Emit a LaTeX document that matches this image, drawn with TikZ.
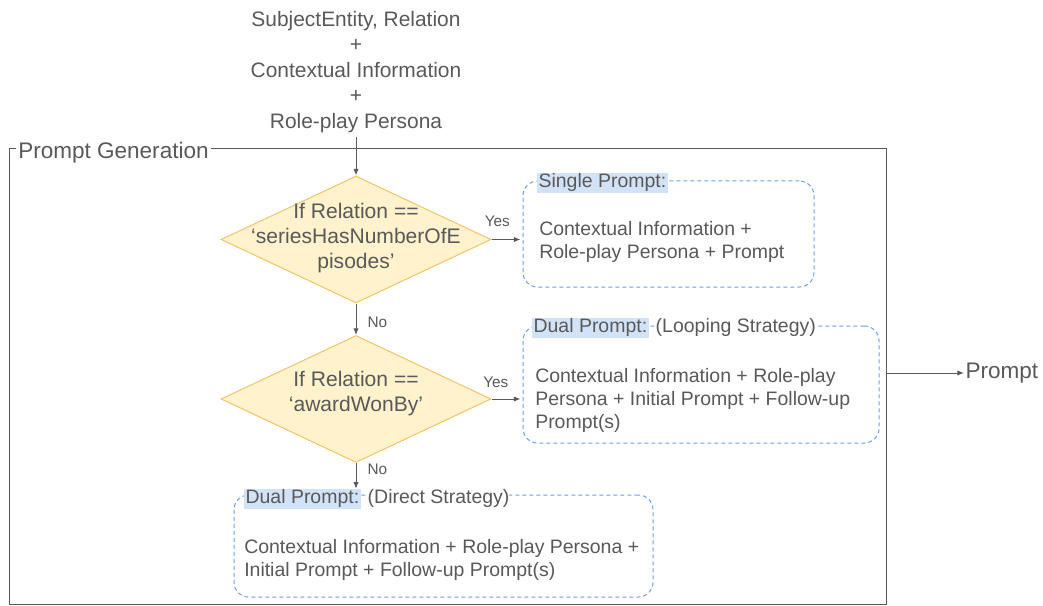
\documentclass[tikz,border=0pt]{standalone}
\usepackage{fontspec}
\setmainfont{Liberation Sans}
\usetikzlibrary{shapes.geometric,arrows.meta,positioning}

\definecolor{txtgray}{HTML}{595959}
\definecolor{decfill}{HTML}{FFF2CC}
\definecolor{decline}{HTML}{F4C46A}
\definecolor{boxblue}{HTML}{6D9EEB}
\definecolor{hlblue}{HTML}{D3E3F7}

\newcommand{\bodyfont}{\fontsize{14.6}{17.25}\selectfont}
\newcommand{\topfont}{\fontsize{15.7}{19.1}\selectfont}
\newcommand{\decfont}{\fontsize{15.8}{18.75}\selectfont}
\newcommand{\bigfont}{\fontsize{16.9}{20}\selectfont}
\newcommand{\lblfont}{\fontsize{11.5}{13}\selectfont}

\tikzset{
  arr/.style={draw=txtgray, line width=0.75pt, -{Latex[length=5pt,width=4pt]}},
  decision/.style={diamond, draw=decline, fill=decfill, line width=0.75pt,
    inner sep=0pt, minimum width=202.5pt, minimum height=95.25pt},
  dtext/.style={font=\decfont, align=center, text=txtgray},
  pbox/.style={draw=boxblue, line width=0.75pt, dash pattern=on 3pt off 2.25pt,
    rounded corners=11pt},
  ptitle/.style={fill=hlblue, font=\bodyfont, anchor=west, inner xsep=1pt,
    inner ysep=0.5pt, text height=10.5pt, text depth=3.5pt},
  pstrat/.style={fill=white, font=\bodyfont, anchor=west, inner xsep=0pt,
    inner ysep=0.5pt, text height=10.5pt, text depth=3.5pt},
  pbody/.style={font=\bodyfont, align=left, anchor=west, inner sep=0pt},
  lbl/.style={font=\lblfont},
}

\begin{document}
\begin{tikzpicture}[x=0.75pt, y=-0.75pt, every node/.style={text=txtgray}]
  \useasboundingbox (0,0) rectangle (1043,606);

  % inputs
  \node[font=\topfont, align=center] (inputs) at (356,72)
    {SubjectEntity, Relation\\+\\Contextual Information\\+\\Role-play Persona};

  % container
  \node[draw=txtgray, line width=0.75pt, minimum width=657.75pt,
    minimum height=341.25pt, inner sep=0pt] (gen) at (447.5,376.5) {};
  \node[fill=white, font=\bigfont, anchor=west, inner xsep=1.5pt, inner ysep=1pt]
    (gentitle) at (16,153) {Prompt Generation};

  % decisions
  \node[decision, label={[dtext, yshift=1pt]center:If Relation ==\\‘seriesHasNumberOfE\\pisodes’}]
    (dec1) at (356,239.5) {};
  \node[decision, label={[dtext, yshift=4pt]center:If Relation ==\\‘awardWonBy’}]
    (dec2) at (356,399) {};

  % single prompt
  \node[pbox, minimum width=218.25pt, minimum height=79.5pt] (single) at (668.5,234) {};
  \node[ptitle] (single-t) at (537,183) {Single Prompt:};
  \node[pbody] (single-b) at (539,242)
    {Contextual Information +\\Role-play Persona + Prompt};

  % dual prompt, looping
  \node[pbox, minimum width=267pt, minimum height=87.75pt] (loop) at (701,384.5) {};
  \node[ptitle] (loop-t) at (532,328) {Dual Prompt:};
  \node[pstrat, right=5pt of loop-t] (loop-s) {(Looping Strategy)};
  \node[pbody] (loop-b) at (535,400)
    {Contextual Information + Role-play\\Persona + Initial Prompt + Follow-up\\Prompt(s)};

  % dual prompt, direct
  \node[pbox, minimum width=314.25pt, minimum height=76.5pt] (direct) at (443.5,546) {};
  \node[ptitle] (direct-t) at (244,499) {Dual Prompt:};
  \node[pstrat, right=5pt of direct-t] (direct-s) {(Direct Strategy)};
  \node[pbody] (direct-b) at (244,559.5)
    {Contextual Information + Role-play Persona +\\Initial Prompt + Follow-up Prompt(s)};

  % output
  \node[font=\bigfont, anchor=west, inner sep=1pt] (out) at (964,373) {Prompt};

  % connectors
  \draw[arr] (inputs.south) -- (dec1.north);
  \draw[arr] (dec1.east) -- node[lbl, pos=0.2, above=6pt] {Yes} ([xshift=-1.5pt]dec1.east -| single.west);
  \draw[arr] (dec1.south) -- node[lbl, pos=0.6, right=5pt] {No} (dec2.north);
  \draw[arr] (dec2.east) -- node[lbl, pos=0.15, above=5pt] {Yes} ([xshift=-1.5pt]dec2.east -| loop.west);
  \draw[arr] (dec2.south) -- node[lbl, pos=0.25, right=5pt] {No} (dec2.south |- direct-t.north);
  \draw[arr] (gen.east |- out.west) -- (out.west);
\end{tikzpicture}
\end{document}
